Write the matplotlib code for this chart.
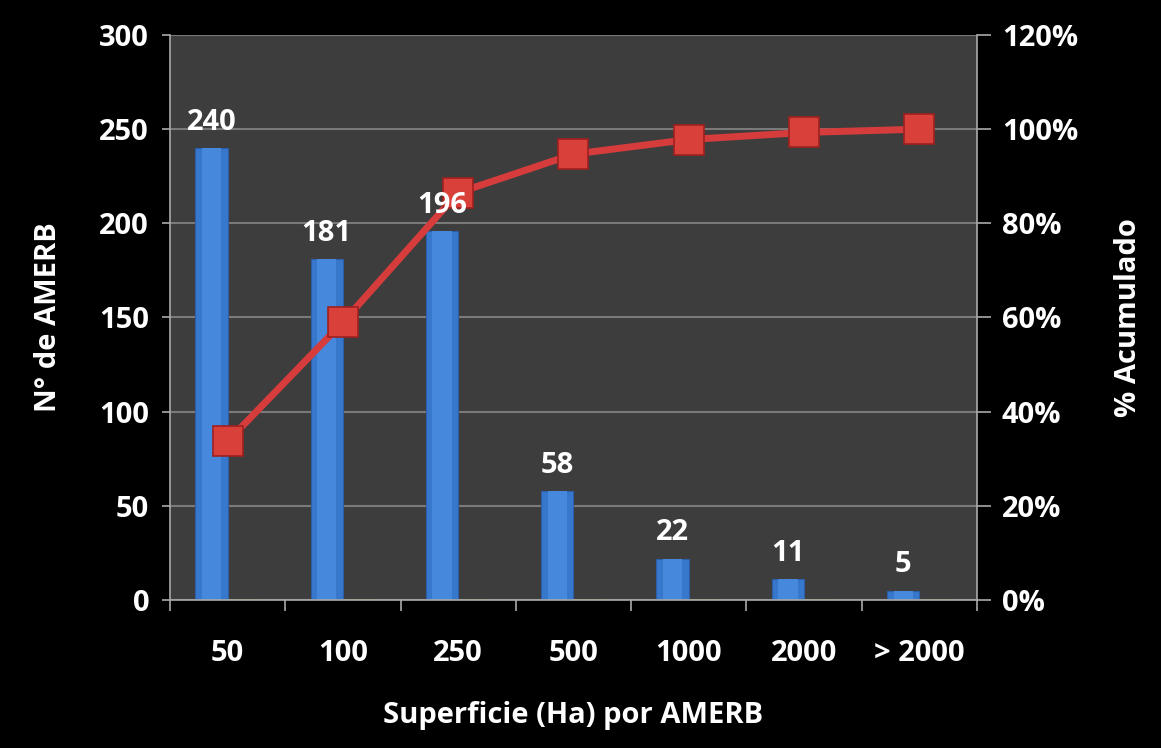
import numpy as np
import matplotlib.pyplot as plt

# datos
categorias = ['50', '100', '250', '500', '1000', '2000', '> 2000']
n_amerb = [240, 181, 196, 58, 22, 11, 5]
serie_cero = [0, 0, 0, 0, 0, 0, 0]
pct_acumulado = [33.7, 59.0, 86.5, 94.7, 97.8, 99.3, 100.0]

plt.rcParams['font.family'] = ['Open Sans', 'DejaVu Sans']
plt.rcParams['font.weight'] = 'bold'
fs = 21

fig = plt.figure(figsize=(11.61, 7.48), dpi=100, facecolor='black')
ax = fig.add_axes([0.1464, 0.1979, 0.6951, 0.7553])
ax.set_facecolor('#3d3d3d')

x = np.arange(len(categorias))
ancho = 0.28

ax.set_axisbelow(True)
ax.yaxis.grid(True, color='#7a7a7a', linewidth=1.5)
ax.bar(x - ancho / 2, n_amerb, width=ancho, color='#3777cc',
       edgecolor='#2c5fa8', linewidth=0.8, zorder=2)
# brillo central de las barras
ax.bar(x - ancho / 2, n_amerb, width=ancho * 0.6, color='#4688dc',
       linewidth=0, zorder=2)
ax.bar(x + ancho / 2, serie_cero, width=ancho, color='#8a9a4a',
       edgecolor='#8a9a4a', linewidth=2, zorder=2)

ax.set_xlim(-0.5, len(categorias) - 0.5)
ax.set_ylim(0, 300)
ax.set_yticks(range(0, 301, 50))
ax.set_xticks(np.arange(-0.5, len(categorias), 1.0))
ax.set_xticklabels([])
ax.set_xticks(x, minor=True)
ax.set_xticklabels(categorias, minor=True)
ax.tick_params(axis='x', which='major', length=8, color='#aaaaaa', width=1.2)
ax.tick_params(axis='x', which='minor', length=0, pad=28,
               labelsize=fs, labelcolor='white')
ax.tick_params(axis='y', length=6, color='#aaaaaa', width=1.2, pad=9,
               labelsize=fs, labelcolor='white')
for s in ['top', 'right']:
    ax.spines[s].set_visible(False)
for s in ['left', 'bottom']:
    ax.spines[s].set_color('#aaaaaa')
    ax.spines[s].set_linewidth(1.2)

ax.set_ylabel('N° de AMERB', color='white', fontsize=fs, fontweight='bold',
              labelpad=26)
ax.set_xlabel('Superficie (Ha) por AMERB', color='white', fontsize=fs,
              fontweight='bold', labelpad=24)

ax2 = ax.twinx()
ax2.plot(x, pct_acumulado, color='#d63c3c', linewidth=5, marker='s',
         markersize=21, markerfacecolor='#d9403a', markeredgecolor='#a02020',
         markeredgewidth=1.2, zorder=5)
ax2.set_ylim(0, 120)
ax2.set_yticks(range(0, 121, 20))
ax2.set_yticklabels([f'{v}%' for v in range(0, 121, 20)])
ax2.tick_params(axis='y', length=10, color='#aaaaaa', width=1.2, pad=8,
                labelsize=fs, labelcolor='white')
for s in ['top', 'left', 'bottom']:
    ax2.spines[s].set_visible(False)
ax2.spines['right'].set_color('#aaaaaa')
ax2.spines['right'].set_linewidth(1.2)
ax2.set_ylabel('% Acumulado', color='white', fontsize=fs, fontweight='bold',
               labelpad=26)

# etiquetas de datos sobre todo lo demas
for xi, v in zip(x - ancho / 2, n_amerb):
    ax2.annotate(str(v), (xi, v), xycoords=ax.transData, xytext=(0, 8),
                 textcoords='offset points', ha='center', va='bottom',
                 color='white', fontsize=fs, fontweight='bold', zorder=6)

fig.savefig('out.png', dpi=100, facecolor='black')
